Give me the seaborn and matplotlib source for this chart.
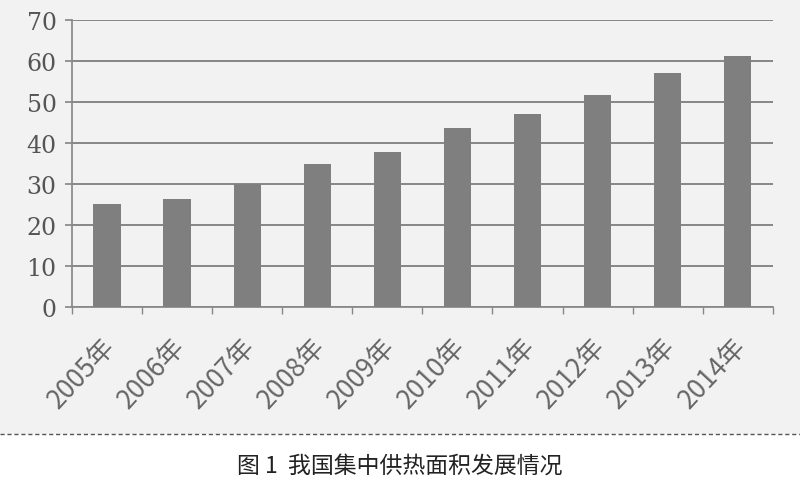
import matplotlib
matplotlib.use("Agg")
import matplotlib.pyplot as plt
import matplotlib.transforms as mtransforms
import seaborn as sns
import pandas as pd
from matplotlib.patches import Rectangle
from matplotlib.lines import Line2D

# 数据
years = ["2005年", "2006年", "2007年", "2008年", "2009年",
         "2010年", "2011年", "2012年", "2013年", "2014年"]
area = [25.1, 26.4, 29.9, 34.9, 37.9, 43.7, 47.2, 51.8, 57.2, 61.2]

df = pd.DataFrame({"年份": years, "面积": area})

sns.set_theme(style="white")
plt.rcParams['font.family'] = ['Noto Sans CJK SC', 'DejaVu Sans']

fig = plt.figure(figsize=(8, 4.89), dpi=100)
# 图表区域浅灰, 下方图注区域白色
fig.patch.set_facecolor("#f2f2f2")
fig.patches.append(Rectangle((0, 0), 1, 0.11, transform=fig.transFigure,
                             facecolor="white", edgecolor="none", zorder=-1))
fig.lines.append(Line2D([0, 1], [0.11, 0.11], transform=fig.transFigure,
                        color="#555555", lw=1, ls=(0, (3, 2))))

ax = fig.add_axes([0.09, 0.37, 0.876, 0.587])
ax.set_facecolor("none")
sns.barplot(data=df, x="年份", y="面积", ax=ax, color="#7f7f7f",
            width=0.39, saturation=1, linewidth=0, zorder=3)

ax.set_ylim(0, 70)
ax.set_yticks(range(0, 71, 10))
ax.set_xlim(-0.5, len(years) - 0.5)
ax.yaxis.grid(True, color="#6a6a6a", lw=1.1)
ax.set_axisbelow(True)
for s in ["top", "right"]:
    ax.spines[s].set_visible(False)
ax.spines["left"].set_color("#888888")
ax.spines["bottom"].set_color("#888888")

ax.set_xlabel("")
ax.set_ylabel("")

ax.tick_params(axis="y", labelsize=17, labelcolor="#555555", left=True,
               length=5, color="#888888", pad=6)
for t in ax.get_yticklabels():
    t.set_fontfamily(["DejaVu Serif"])

# 类别边界上的刻度
ax.set_xticks([i - 0.5 for i in range(len(years) + 1)], minor=True)
ax.tick_params(axis="x", which="minor", bottom=True, length=5, color="#888888")
ax.tick_params(axis="x", which="major", bottom=False, labelsize=19,
               labelcolor="#666666", pad=12)
offset = mtransforms.ScaledTranslation(-6 / 100, 0, fig.dpi_scale_trans)
for t in ax.get_xticklabels():
    t.set_rotation(47)
    t.set_ha("right")
    t.set_rotation_mode("anchor")
    t.set_transform(t.get_transform() + offset)

fig.text(0.5, 0.047, "图 1  我国集中供热面积发展情况", ha="center", va="center",
         fontsize=16.5, color="#222222")

fig.savefig("out.png", dpi=100, facecolor=fig.get_facecolor())
